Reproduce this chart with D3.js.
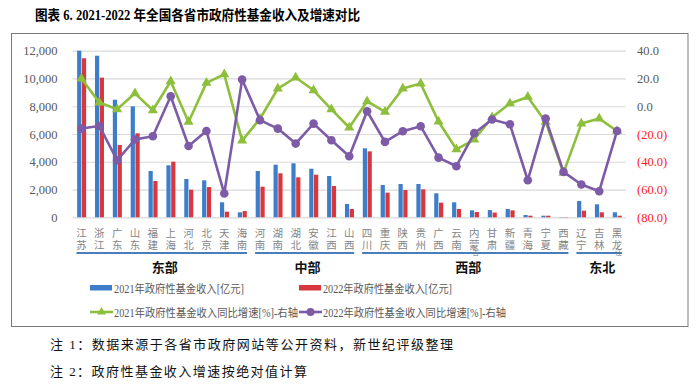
<!DOCTYPE html>
<html><head><meta charset="utf-8">
<script src="https://cdn.jsdelivr.net/npm/d3@7"></script>
<style>
html,body{margin:0;padding:0;background:#fff;}
svg{display:block;font-family:"Liberation Serif","Noto Sans CJK SC",serif;}
.vt{writing-mode:vertical-rl;text-orientation:upright;}
</style></head>
<body><svg id="c" width="699" height="387"></svg>
<script>
const provinces = ["江苏","浙江","广东","山东","福建","上海","河北","北京","天津","海南","河南","湖南","湖北","安徽","江西","山西","四川","重庆","陕西","贵州","广西","云南","内蒙古","甘肃","新疆","青海","宁夏","西藏","辽宁","吉林","黑龙江"];
const rev2021 = [12000,11640,8470,7995,3335,3745,2760,2665,1080,360,3335,3790,3890,3500,2975,960,4970,2325,2400,2400,1730,1080,500,520,600,165,115,20,1175,935,360];
const rev2022 = [11455,10060,5210,6050,2615,4005,1990,2180,405,450,2205,3170,2880,3070,2255,600,4750,1775,1965,2015,1055,600,380,340,500,115,115,20,475,360,115];
const growth2021 = [20,2.7,-2.2,9.3,-2.9,18,-11.3,16.8,23,-24.8,-9,12.7,20.7,11.5,-2.2,-15.3,3.6,-4.1,12.7,16.3,-11,-31,-24,-8,2,6.7,-11.3,-48,-12.5,-8.9,-17.8];
const growth2022 = [-16.1,-14.2,-38.9,-24,-21.6,7.2,-28.6,-17.8,-62.9,19.2,-10,-16.1,-26.9,-12.5,-24.5,-36,-3.6,-25.7,-18,-14.4,-37,-43.2,-19.4,-9.6,-13,-53.3,-8.9,-47.3,-56.4,-61.2,-17.8];
const groupNames = ["东部","中部","西部","东北"];
const groupSizes = [10,6,12,3];
const leftTicks = [0,2000,4000,6000,8000,10000,12000];
const rightTicks = [-80,-60,-40,-20,0,20,40];
const seriesNames = ["2021年政府性基金收入[亿元]","2022年政府性基金收入[亿元]","2021年政府性基金收入同比增速[%]-右轴","2022年政府性基金收入同比增速[%]-右轴"];
const titleText = "图表 6. 2021-2022 年全国各省市政府性基金收入及增速对比";
const notes = ["注 1：数据来源于各省市政府网站等公开资料，新世纪评级整理","注 2：政府性基金收入增速按绝对值计算"];

const C = {blue:"#3d7dca", red:"#d8373d", green:"#8dbf3c", purple:"#7d5ba6", grid:"#d9d9d9", axisText:"#595959"};
const svg = d3.select("#c");
const L = 72.5, R = 626, T = 50.7, B = 217.3;

// title
svg.append("text").attr("x",35).attr("y",19.5).attr("font-size",14).attr("font-weight","bold")
  .attr("textLength",325).attr("lengthAdjust","spacingAndGlyphs").attr("fill","#000").text(titleText);
// frame
svg.append("rect").attr("x",11.5).attr("y",33.5).attr("width",676.5).attr("height",293)
  .attr("fill","none").attr("stroke","#7a7a7a").attr("stroke-width",1);

const x = d3.scaleBand().domain(provinces).range([L,R]).padding(0);
const yL = d3.scaleLinear().domain([0,12000]).range([B,T]);
const yR = d3.scaleLinear().domain([-80,40]).range([B,T]);

// grid + left axis
const gl = svg.append("g").attr("transform",`translate(${L},0)`)
  .call(d3.axisLeft(yL).tickValues(leftTicks).tickFormat(d3.format(",")).tickSize(-(R-L)).tickPadding(15));
gl.select(".domain").remove();
gl.selectAll(".tick line").attr("stroke",C.grid).attr("stroke-width",1.2);
gl.selectAll(".tick text").attr("fill",C.axisText).attr("font-size",12.5).attr("font-family","Liberation Serif");

// right axis
const gr = svg.append("g").attr("transform",`translate(${R},0)`)
  .call(d3.axisRight(yR).tickValues(rightTicks).tickSize(0).tickPadding(11)
    .tickFormat(d => d<0 ? `(${Math.abs(d).toFixed(1)})` : d.toFixed(1)));
gr.select(".domain").remove();
gr.selectAll(".tick text").attr("fill",d => d<0 ? "#ff1a1a" : C.axisText).attr("font-size",12.5).attr("font-family","Liberation Serif");

// bars
const bw = 4.2;
svg.append("g").selectAll("rect").data(provinces).join("rect")
  .attr("x",d => x(d)+x.bandwidth()/2-4.3).attr("width",bw)
  .attr("y",(d,i)=>yL(rev2021[i])).attr("height",(d,i)=>yL(0)-yL(rev2021[i])).attr("fill",C.blue);
svg.append("g").selectAll("rect").data(provinces).join("rect")
  .attr("x",d => x(d)+x.bandwidth()/2+0.5).attr("width",bw)
  .attr("y",(d,i)=>yL(rev2022[i])).attr("height",(d,i)=>yL(0)-yL(rev2022[i])).attr("fill",C.red);

// lines
const cx = d => x(d)+x.bandwidth()/2;
function drawLine(vals,color,marker){
  const line = d3.line().x((d,i)=>cx(provinces[i])).y(d=>yR(d));
  svg.append("path").datum(vals).attr("d",line).attr("fill","none").attr("stroke",color).attr("stroke-width",2.6).attr("stroke-linejoin","round");
  const g = svg.append("g");
  if(marker==="tri"){
    g.selectAll("path").data(vals).join("path")
      .attr("d",d3.symbol(d3.symbolTriangle,44)())
      .attr("transform",(d,i)=>`translate(${cx(provinces[i])},${yR(d)})`).attr("fill",color);
  } else {
    g.selectAll("circle").data(vals).join("circle")
      .attr("cx",(d,i)=>cx(provinces[i])).attr("cy",d=>yR(d)).attr("r",4.3).attr("fill",color);
  }
}
drawLine(growth2021,C.green,"tri");
drawLine(growth2022,C.purple,"circle");

// group lines & labels
let start = 0;
groupNames.forEach((g,gi) => {
  const end = start + groupSizes[gi] - 1;
  const x0 = x(provinces[start]) + 4, x1 = x(provinces[end]) + x.bandwidth() - 4;
  svg.append("line").attr("x1",x0).attr("x2",x1).attr("y1",253).attr("y2",253).attr("stroke","#4a7ebb").attr("stroke-width",1.8);
  svg.append("text").attr("x",(x0+x1)/2+3).attr("y",271.5).attr("text-anchor","middle").attr("font-size",13).attr("font-weight","bold")
    .attr("font-family","Noto Sans CJK SC").attr("fill","#111").text(g);
  start = end + 1;
});

// category labels (vertical text), drawn above group lines
const lab = svg.append("g").attr("fill","#858585").attr("font-family","Noto Sans CJK SC");
provinces.forEach(p => {
  const chars = Array.from(p);
  lab.append("text").attr("class","vt").attr("x",cx(p)).attr("y",228)
    .attr("font-size",10.5).attr("letter-spacing",1).text(chars.slice(0,2).join(""));
  if(chars.length>2){
    lab.append("text").attr("class","vt").attr("x",cx(p)+1.5).attr("y",249.6)
      .attr("font-size",6.5).attr("fill","#6f6f6f").text(chars.slice(2).join(""));
  }
});

// legend
const lg = svg.append("g");
const legX = [90, 299], legY = [288, 312], legW = [130,129,184,183];
seriesNames.forEach((s,i) => {
  const col = i%2, row = Math.floor(i/2);
  const lx = legX[col], ly = legY[row];
  const color = [C.blue,C.red,C.green,C.purple][i];
  if(row===0){
    lg.append("rect").attr("x",lx).attr("y",ly-3).attr("width",22).attr("height",5.5).attr("fill",color);
  } else {
    lg.append("line").attr("x1",lx).attr("x2",lx+23).attr("y1",ly).attr("y2",ly).attr("stroke",color).attr("stroke-width",2.6);
    if(i===2) lg.append("path").attr("d",d3.symbol(d3.symbolTriangle,34)()).attr("transform",`translate(${lx+11.5},${ly})`).attr("fill",color);
    else lg.append("circle").attr("cx",lx+11.5).attr("cy",ly).attr("r",4).attr("fill",color);
  }
  lg.append("text").attr("x",lx+24).attr("y",ly+4.5).attr("font-size",11.5).attr("fill",C.axisText)
    .attr("textLength",legW[i]).attr("lengthAdjust","spacingAndGlyphs").text(s);
});

// notes
const nw = [403, 257];
notes.forEach((n,i) => {
  svg.append("text").attr("x",50).attr("y",349+i*27).attr("font-size",13).attr("fill","#111")
    .attr("textLength",nw[i]).attr("lengthAdjust","spacing").text(n);
});
</script></body></html>
